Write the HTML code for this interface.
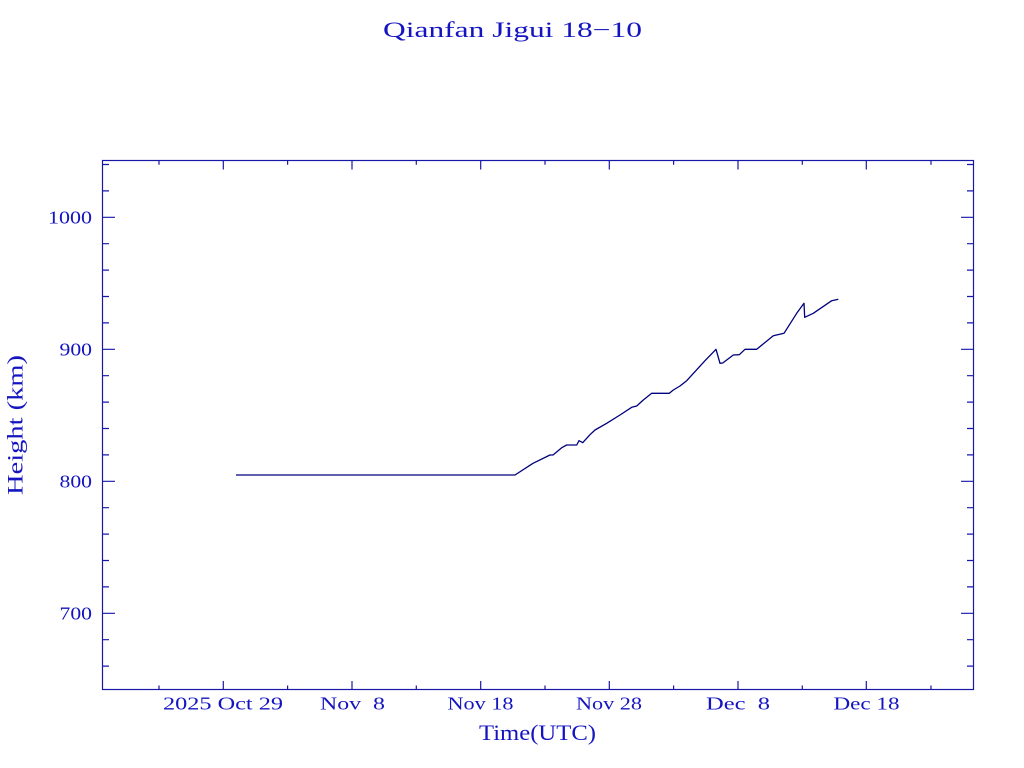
<!DOCTYPE html>
<html>
<head>
<meta charset="utf-8">
<style>
html,body{margin:0;padding:0;background:#fff;}
svg{display:block;}
text{font-family:"Liberation Serif",serif;fill:#1414c0;}
</style>
</head>
<body>
<svg width="1024" height="768" viewBox="0 0 1024 768" xmlns="http://www.w3.org/2000/svg">
<rect width="1024" height="768" fill="#fff"/>
<!-- title -->
<text x="383" y="37" font-size="22" textLength="259" lengthAdjust="spacingAndGlyphs">Qianfan Jigui 18−10</text>
<!-- frame -->
<rect x="102.5" y="160.5" width="871" height="529" fill="none" stroke="#1818a8" stroke-width="1.2"/>
<g stroke="#1818a8" stroke-width="1.2">
<path d="M223.3 690v-9M352 690v-9M480.7 690v-9M609.3 690v-9M738 690v-9M866.3 690v-9
M223.3 160v9.5M352 160v9.5M480.7 160v9.5M609.3 160v9.5M738 160v9.5M866.3 160v9.5"/>
<path d="M159 690v-4.5M287.6 690v-4.5M416.3 690v-4.5M545 690v-4.5M673.6 690v-4.5M802.3 690v-4.5M931 690v-4.5
M159 160v4.7M287.6 160v4.7M416.3 160v4.7M545 160v4.7M673.6 160v4.7M802.3 160v4.7M931 160v4.7"/>
<path d="M102 217.3h13M102 349.3h13M102 481.3h13M102 613.3h13
M973 217.3h-12M973 349.3h-12M973 481.3h-12M973 613.3h-12"/>
<path d="M102 164.5h7M102 190.9h7M102 243.7h7M102 270.1h7M102 296.5h7M102 322.9h7M102 375.7h7M102 402.1h7M102 428.5h7M102 454.9h7M102 507.7h7M102 534.1h7M102 560.5h7M102 586.9h7M102 639.7h7M102 666.1h7
M973 164.5h-6M973 190.9h-6M973 243.7h-6M973 270.1h-6M973 296.5h-6M973 322.9h-6M973 375.7h-6M973 402.1h-6M973 428.5h-6M973 454.9h-6M973 507.7h-6M973 534.1h-6M973 560.5h-6M973 586.9h-6M973 639.7h-6M973 666.1h-6"/>
</g>
<!-- y labels -->
<g font-size="18">
<text x="48" y="223.5" textLength="44" lengthAdjust="spacingAndGlyphs">1000</text>
<text x="59.5" y="355.5" textLength="32.5" lengthAdjust="spacingAndGlyphs">900</text>
<text x="59.5" y="487.5" textLength="32.5" lengthAdjust="spacingAndGlyphs">800</text>
<text x="59.5" y="619.5" textLength="32.5" lengthAdjust="spacingAndGlyphs">700</text>
</g>
<!-- x labels -->
<g font-size="18">
<text x="163" y="709.5" textLength="120" lengthAdjust="spacingAndGlyphs">2025 Oct 29</text>
<text x="320" y="709.5" textLength="65" lengthAdjust="spacingAndGlyphs" xml:space="preserve">Nov  8</text>
<text x="447.5" y="709.5" textLength="66" lengthAdjust="spacingAndGlyphs">Nov 18</text>
<text x="576" y="709.5" textLength="66" lengthAdjust="spacingAndGlyphs">Nov 28</text>
<text x="706" y="709.5" textLength="64" lengthAdjust="spacingAndGlyphs" xml:space="preserve">Dec  8</text>
<text x="833.5" y="709.5" textLength="66" lengthAdjust="spacingAndGlyphs">Dec 18</text>
</g>
<!-- axis titles -->
<text x="479" y="740" font-size="22" textLength="117" lengthAdjust="spacingAndGlyphs">Time(UTC)</text>
<text transform="translate(22.5,495) rotate(-90)" x="0" y="0" font-size="22" textLength="140" lengthAdjust="spacingAndGlyphs">Height (km)</text>
<!-- data -->
<polyline fill="none" stroke="#00007e" stroke-width="1.3" stroke-linejoin="round" points="236,475 515,475 533,463.3 550,455 553,455 561.7,447.7 566.7,445 576.7,445 579,440.7 581,441.7 582.7,442.7 590,434.7 595,430 606.7,423.3 620,415 631.7,407.3 636.7,406 643.3,400 651.7,393.3 669.3,393.3 673.3,390 680,386 686.7,380.7 705,360.7 716,349.3 720,363.3 722.7,363 733.3,355 739.3,354.7 745,349.3 756.7,349.3 773.3,335.7 784,333.3 796.7,313.3 804,303.3 804.7,317.3 813.3,313.3 831.7,300.7 838.3,299.3"/>
</svg>
</body>
</html>
